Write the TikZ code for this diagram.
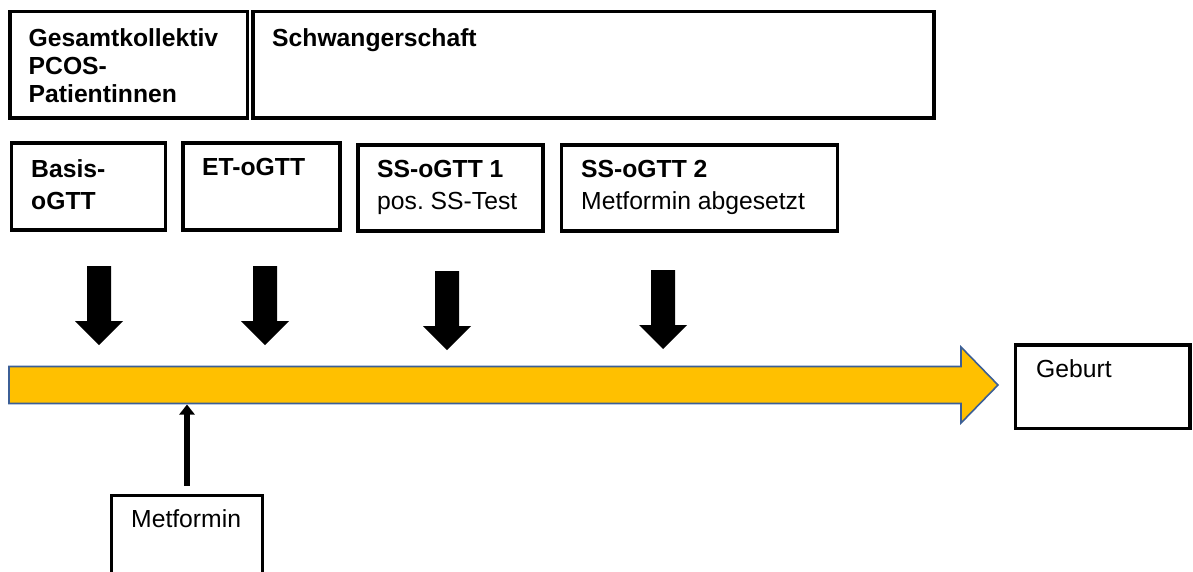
\documentclass[tikz,border=0pt]{standalone}
\usepackage{fontspec}
\setmainfont{Liberation Sans}
\usetikzlibrary{arrows.meta}
\definecolor{gold}{HTML}{FFC000}
\definecolor{edgeblue}{HTML}{3C5F96}
\frenchspacing
\begin{document}
\begin{tikzpicture}[x=1pt,y=-1pt,
  box/.style={draw, line width=3.2pt, anchor=north west, inner sep=0pt, outer sep=0pt},
  lbl/.style={anchor=base west, inner sep=0pt, font=\fontsize{24.7}{28}\selectfont},
  blbl/.style={anchor=base west, inner sep=0pt, font=\fontsize{24.7}{28}\selectfont\bfseries},
  bigdown/.style={fill=black},
  timeline/.style={fill=gold, draw=edgeblue, line width=1.6pt, line join=miter}]
\useasboundingbox (0,0) rectangle (1193,571);

% top row
\node[box, minimum width=237.5pt, minimum height=106.5pt] (gesamt) at (10,11.5) {};
\node[box, minimum width=681pt, minimum height=106.5pt] (schw) at (253,11.5) {};
\node[blbl] (tg1) at (28.5,46) {Gesamtkollektiv};
\node[blbl] (tg2) at (28.5,74) {PCOS-};
\node[blbl] (tg3) at (28.5,102) {Patientinnen};
\node[blbl] (ts) at (272,46) {Schwangerschaft};

% second row
\node[box, minimum width=154pt, minimum height=87pt] (basis) at (11.5,143) {};
\node[box, minimum width=157pt, minimum height=87pt] (et) at (183,143) {};
\node[box, minimum width=185pt, minimum height=86pt] (ss1) at (358,145) {};
\node[box, minimum width=276pt, minimum height=86pt] (ss2) at (561.5,145) {};
\node[blbl] (tb1) at (31,177) {Basis-};
\node[blbl] (tb2) at (31,209) {oGTT};
\node[blbl] (te) at (202,175.5) {ET-oGTT};
\node[blbl] (t11) at (377,177.5) {SS-oGTT 1};
\node[lbl] (t12) at (377,209) {pos. SS-Test};
\node[blbl] (t21) at (581,177.5) {SS-oGTT 2};
\node[lbl] (t22) at (581,209) {Metformin abgesetzt};

% big down arrows
\foreach \cx/\t/\b in {99/266/345, 265/266/345, 447/271/350, 663/270/349}{
  \fill[bigdown] (\cx-12,\t) -- (\cx+12,\t) -- (\cx+12,\b-24) -- (\cx+24,\b-24)
    -- (\cx,\b) -- (\cx-24,\b-24) -- (\cx-12,\b-24) -- cycle;
}

% timeline arrow
\draw[timeline] (9,366.5) -- (961,366.5) -- (961,347) -- (998,385) -- (961,423)
  -- (961,403.5) -- (9,403.5) -- cycle;
\coordinate (barpt) at (187,404.5);

% Geburt
\node[box, minimum width=174.5pt, minimum height=83.5pt] (geburt) at (1015.5,345) {};
\node[lbl] (tgeb) at (1036,377) {Geburt};

% Metformin
\node[box, minimum width=151pt, minimum height=110pt] (met) at (111.5,495.5) {};
\node[lbl] (tmet) at (131,527) {Metformin};
\draw[line width=6pt, -{Triangle[width=15pt,length=10pt]}] ([yshift=10pt]met.north) -- (barpt);

\end{tikzpicture}
\end{document}
